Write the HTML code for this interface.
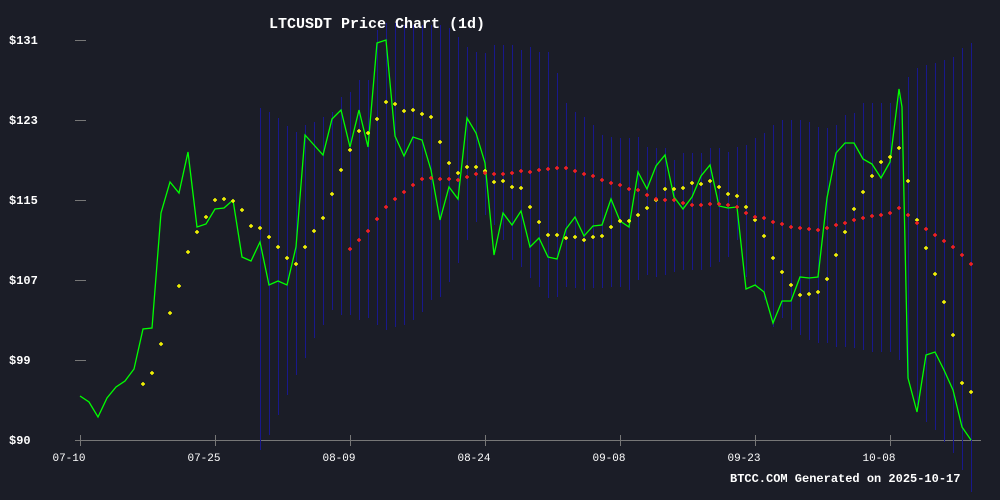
<!DOCTYPE html>
<html><head><meta charset="utf-8"><style>
html,body{margin:0;padding:0;background:#1b1d27;}
svg{display:block;}
text{font-family:"Liberation Mono","DejaVu Sans Mono",monospace;fill:#fff;}
</style></head><body>
<svg width="1000" height="500" viewBox="0 0 1000 500" xmlns="http://www.w3.org/2000/svg">
<defs>
<marker id="py" markerWidth="6" markerHeight="6" refX="3" refY="3" markerUnits="userSpaceOnUse"><path d="M1 3H5M3 1V5" stroke="#ffff00" stroke-width="1.4"/></marker>
<marker id="pr" markerWidth="6" markerHeight="6" refX="3" refY="3" markerUnits="userSpaceOnUse"><path d="M1 3H5M3 1V5" stroke="#ff2020" stroke-width="1.4"/></marker>
</defs>
<rect width="1000" height="500" fill="#1b1d27"/>
<text x="377" y="28" font-size="15" font-weight="bold" text-anchor="middle">LTCUSDT Price Chart (1d)</text>
<g font-size="12" font-weight="bold">
<text x="9" y="44">$131</text><text x="9" y="124">$123</text><text x="9" y="204">$115</text>
<text x="9" y="284">$107</text><text x="9" y="364">$99</text><text x="9" y="444">$90</text>
</g>
<g stroke="#777" stroke-width="1">
<path d="M75 40.5H86M75 120.5H86M75 200.5H86M75 280.5H86M75 360.5H86"/>
<path d="M75 440.5H981"/>
<path d="M80.5 435V446M215.5 435V446M350.5 435V446M485.5 435V446M620.5 435V446M755.5 435V446M890.5 435V446"/>
</g>
<g font-size="11" text-anchor="middle">
<text x="69" y="461">07-10</text><text x="204" y="461">07-25</text><text x="339" y="461">08-09</text>
<text x="474" y="461">08-24</text><text x="609" y="461">09-08</text><text x="744" y="461">09-23</text><text x="879" y="461">10-08</text>
</g>
<path stroke="#18188c" stroke-width="1" fill="none" d="M260.5 108V450M269.5 112V435M278.5 118V415M287.5 126V395M296.5 132V375M305.5 125V358M314.5 122V338M323.5 117V325M332.5 112V310M341.5 97V315M350.5 92V315M359.5 80V320M368.5 80V318M377.5 30V325M386.5 23V330M395.5 23V327M404.5 25V325M413.5 25V320M422.5 25V312M431.5 25V300M440.5 25V297M449.5 28V282M458.5 37V263M467.5 47V240M476.5 52V222M485.5 53V215M494.5 45V225M503.5 45V240M512.5 45V260M521.5 50V267M530.5 47V278M539.5 52V287M548.5 52V298M557.5 73V297M566.5 103V287M575.5 112V288M584.5 117V290M593.5 125V288M602.5 135V288M611.5 137V287M620.5 138V287M629.5 138V290M638.5 137V280M647.5 147V275M656.5 148V277M665.5 148V275M674.5 160V272M683.5 153V270M692.5 153V270M701.5 153V270M710.5 148V267M719.5 148V262M728.5 152V257M737.5 147V240M746.5 145V277M755.5 138V285M764.5 133V300M773.5 125V327M782.5 120V318M791.5 120V330M800.5 120V335M809.5 122V340M818.5 127V343M827.5 128V343M836.5 125V347M845.5 115V347M854.5 113V348M863.5 103V350M872.5 103V352M881.5 103V352M890.5 103V352M899.5 97V360M908.5 77V380M917.5 68V405M926.5 65V422M935.5 63V430M944.5 60V442M953.5 57V453M962.5 48V470M971.5 43V492"/>
<polyline fill="none" stroke="#00ff00" stroke-width="1.3" points="80,396 89,402 98,417 107,398 116,387 125,381 134,369 143,329 152,328 161,213 170,182 179,193 188,152 197,227 206,224 215,209 224,208 233,200 242,257 251,261 260,242 269,285 278,281 287,285 296,247 305,135 314,145 323,155 332,119 341,110 350,147 359,110 368,147 377,43 386,40 395,136 404,156 413,137 422,140 431,170 440,220 449,187 458,199 467,118 476,133 485,163 494,255 503,213 512,225 521,211 530,247 539,238 548,257 557,259 566,229 575,217 584,236 593,226 602,225 611,199 620,221 629,227 638,172 647,189 656,166 665,155 674,197 683,209 692,197 701,176 710,165 719,206 728,208 737,207 746,289 755,285 764,292 773,323 782,301 791,301 800,277 809,278 818,277 827,198 836,153 845,143 854,143 863,159 872,164 881,178 890,162 899,89 902,107 908,378 917,412 926,355 935,352 944,370 953,390 962,427 971,440"/>
<polyline fill="none" stroke="none" marker-start="url(#py)" marker-mid="url(#py)" marker-end="url(#py)" points="143,384 152,373 161,344 170,313 179,286 188,252 197,232 206,217 215,200 224,199 233,201 242,210 251,226 260,228 269,237 278,247 287,258 296,264 305,247 314,231 323,218 332,194 341,170 350,150 359,131 368,133 377,119 386,102 395,104 404,111 413,110 422,114 431,117 440,142 449,163 458,173 467,167 476,167 485,171 494,182 503,181 512,187 521,188 530,207 539,222 548,235 557,235 566,238 575,237 584,240 593,237 602,236 611,227 620,221 629,221 638,215 647,208 656,200 665,189 674,189 683,188 692,183 701,184 710,181 719,187 728,194 737,196 746,207 755,220 764,236 773,258 782,272 791,285 800,295 809,294 818,292 827,279 836,255 845,232 854,209 863,192 872,176 881,162 890,157 899,148 908,181 917,220 926,248 935,274 944,302 953,335 962,383 971,392"/>
<polyline fill="none" stroke="none" marker-start="url(#pr)" marker-mid="url(#pr)" marker-end="url(#pr)" points="350,249 359,240 368,231 377,219 386,207 395,199 404,192 413,185 422,179 431,178 440,179 449,179 458,180 467,177 476,174 485,173 494,174 503,174 512,173 521,171 530,172 539,170 548,169 557,168 566,168 575,171 584,174 593,176 602,180 611,183 620,185 629,189 638,190 647,195 656,199 665,200 674,200 683,203 692,205 701,205 710,204 719,204 728,205 737,207 746,213 755,217 764,218 773,222 782,224 791,227 800,228 809,229 818,230 827,228 836,225 845,223 854,220 863,218 872,216 881,215 890,213 899,208 908,215 917,223 926,229 935,235 944,241 953,247 962,255 971,264"/>
<text x="730" y="482" font-size="12" font-weight="bold">BTCC.COM Generated on 2025-10-17</text>
</svg>
</body></html>
